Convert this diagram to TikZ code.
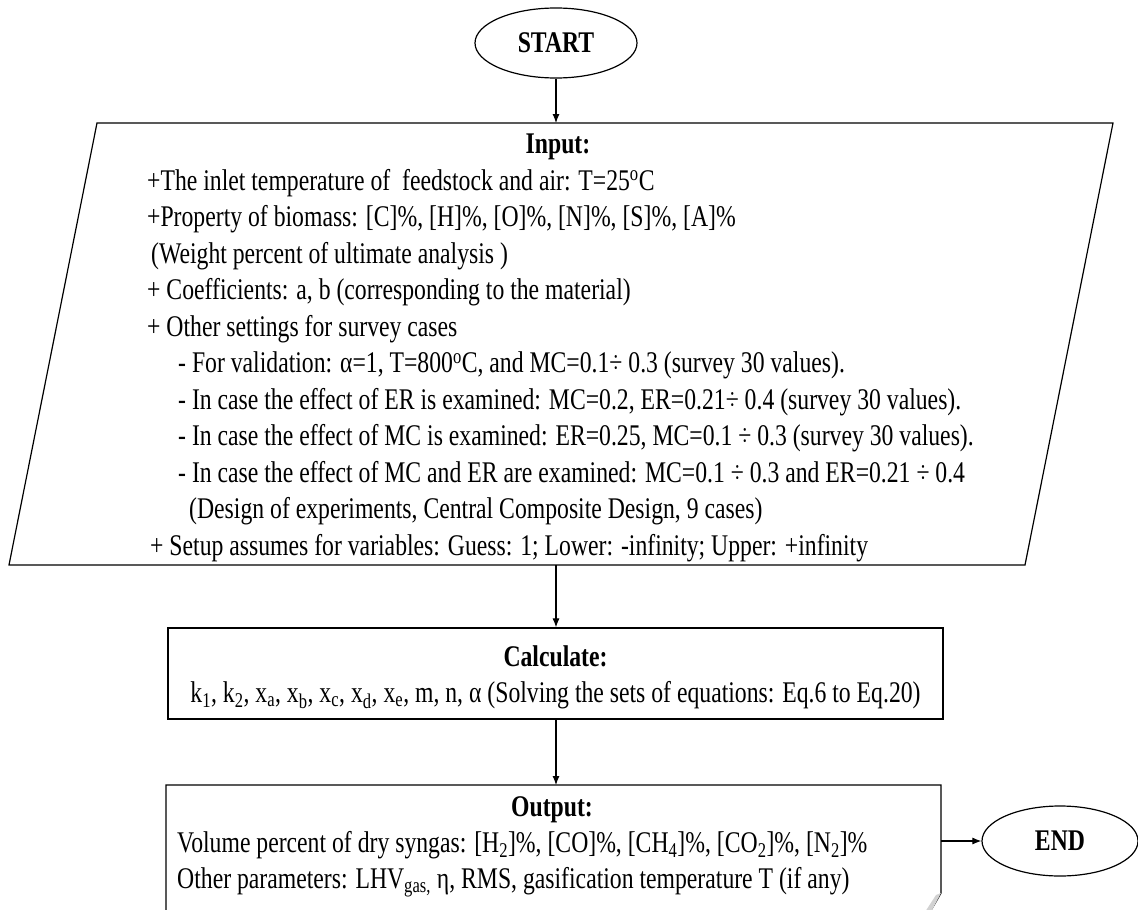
\documentclass[tikz,border=0pt]{standalone}
\usepackage{fontspec}
\setmainfont{Liberation Serif}[FakeStretch=0.79]
\usetikzlibrary{arrows.meta,shapes.geometric}
\newcommand{\mysz}{\fontsize{30pt}{36.5pt}\selectfont}
\tikzset{
  x=1pt, y=-1pt,
  every node/.style={font=\mysz, inner sep=0pt},
  txt/.style={anchor=base west},
  ctxt/.style={anchor=base, font=\mysz\bfseries},
  term/.style={ellipse, draw, line width=1.2pt, minimum width=162pt, minimum height=70pt, font=\mysz\bfseries},
  boxn/.style={draw, line width=1.2pt},
  arr/.style={-{Latex[length=9pt,width=7pt]}, line width=1.1pt},
  outl/.style={line width=1.2pt},
}
\begin{document}
\begin{tikzpicture}
\useasboundingbox (0,0) rectangle (1138,910);
\clip (0,0) rectangle (1138,910);

% START
\node[term] (start) at (556,43) {START};

% Input parallelogram
\coordinate (inTL) at (97,123);
\coordinate (inTR) at (1113,123);
\coordinate (inBR) at (1025,565);
\coordinate (inBL) at (9,565);
\draw[outl] (inTL) -- (inTR) -- (inBR) -- (inBL) -- cycle;
\coordinate (inTop) at (556,123);
\coordinate (inBot) at (556,565);
\draw[arr] (start.south) -- (inTop);

\node[ctxt] (inH) at (558,153.5) {Input:};
\node[txt] (in1) at (147,190) {+The inlet temperature of~ feedstock and air: T=25\textsuperscript{o}C};
\node[txt] (in2) at (147,226.5) {+Property of biomass: [C]\%, [H]\%, [O]\%, [N]\%, [S]\%, [A]\%};
\node[txt] (in3) at (151,263) {(Weight percent of ultimate analysis )};
\node[txt] (in4) at (147,299.5) {+ Coefficients: a, b (corresponding to the material)};
\node[txt] (in5) at (147,336) {+ Other settings for survey cases};
\node[txt] (in6) at (178,372.5) {- For validation: α=1, T=800\textsuperscript{o}C, and MC=0.1÷ 0.3 (survey 30 values).};
\node[txt] (in7) at (178,409) {- In case the effect of ER is examined: MC=0.2, ER=0.21÷ 0.4 (survey 30 values).};
\node[txt] (in8) at (178,445.5) {- In case the effect of MC is examined: ER=0.25, MC=0.1 ÷ 0.3 (survey 30 values).};
\node[txt] (in9) at (178,482) {- In case the effect of MC and ER are examined: MC=0.1 ÷ 0.3 and ER=0.21 ÷ 0.4};
\node[txt] (in10) at (189,518.5) {(Design of experiments, Central Composite Design, 9 cases)};
\node[txt] (in11) at (150,555) {+ Setup assumes for variables: Guess: 1; Lower: -infinity; Upper: +infinity};

% Calculate
\node[boxn, minimum width=775pt, minimum height=91pt] (calc) at (555.5,673.5) {};
\node[ctxt] (cH) at (555.5,666) {Calculate:};
\node[anchor=base] (c1) at (555.5,702.5) {k\textsubscript{1}, k\textsubscript{2}, x\textsubscript{a}, x\textsubscript{b}, x\textsubscript{c}, x\textsubscript{d}, x\textsubscript{e}, m, n, α (Solving the sets of equations: Eq.6 to Eq.20)};
\draw[arr] (inBot) -- (inBot |- calc.north);

% Output (document shape, cut by the page edge)
\coordinate (oTL) at (166,785);
\coordinate (oTR) at (941,785);
\coordinate (oR) at (941,893);
\coordinate (oTop) at (556,785);
\draw[outl] (166,930) -- (oTL) -- (oTR) -- (oR) .. controls (936,902) and (930,912) .. (922,925);
\fill[gray!35] (oR) -- (936,895) -- (925,912) -- (931,912) -- cycle;
\draw[arr] (calc.south -| oTop) -- (oTop);

\node[ctxt] (oH) at (552,816) {Output:};
\node[txt] (o1) at (177,852) {Volume percent of dry syngas: [H\textsubscript{2}]\%, [CO]\%, [CH\textsubscript{4}]\%, [CO\textsubscript{2}]\%, [N\textsubscript{2}]\%};
\node[txt] (o2) at (177,888.5) {Other parameters: LHV\textsubscript{gas,} η, RMS, gasification temperature T (if any)};

% END
\node[term, minimum width=156pt] (end) at (1060,841) {END};
\coordinate (oArr) at (941,841);
\draw[arr] (oArr) -- (end.west);
\end{tikzpicture}
\end{document}
